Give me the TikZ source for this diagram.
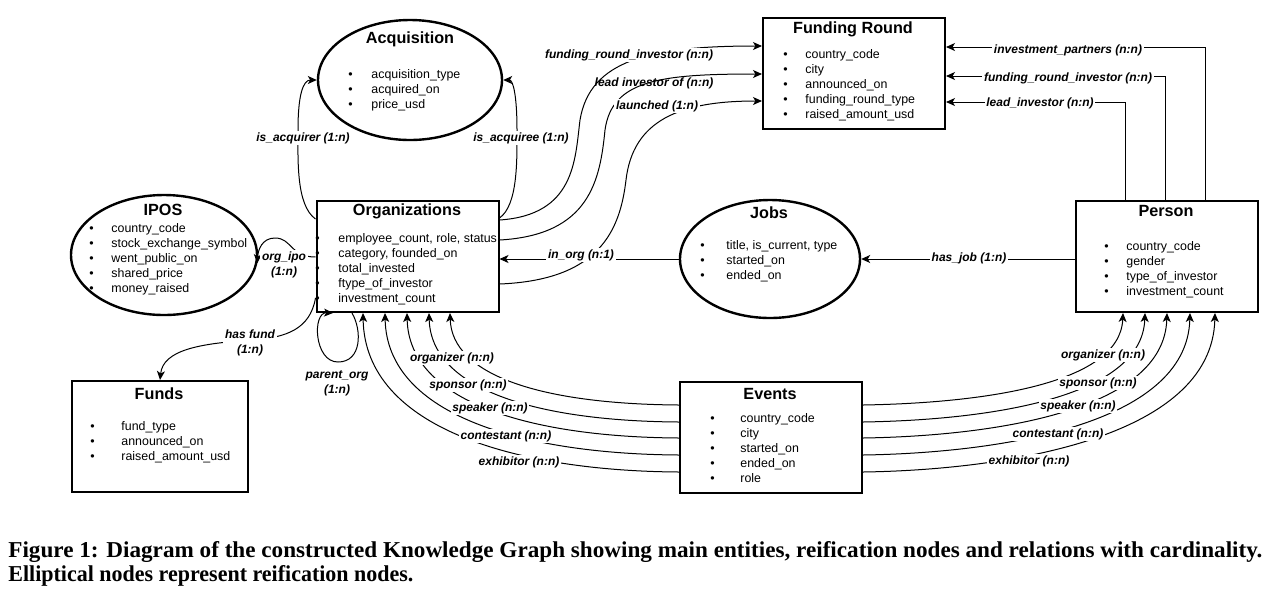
\documentclass[tikz,border=0pt]{standalone}
\usepackage{fontspec}
\setmainfont{Liberation Sans}
\newfontfamily\capfont{Liberation Serif}
\usetikzlibrary{shapes.geometric,arrows.meta}

\newcommand{\attrlist}[2]{\begin{tabular}[t]{@{}l@{\hspace{#1}}l@{}}#2\end{tabular}}
\newcommand{\attr}[1]{\textbullet & #1\\}

\tikzset{
  entity/.style={draw, line width=1pt, minimum width=91pt, minimum height=55.5pt, inner sep=0pt},
  reif/.style={ellipse, draw, line width=1.2pt, inner sep=0pt},
  etitle/.style={font=\fontsize{8.1}{9}\selectfont\bfseries, inner sep=0pt},
  items/.style={font=\fontsize{6.2}{7.5}\selectfont, inner sep=0pt, anchor=base west},
  lbl/.style={font=\fontsize{6}{7.5}\selectfont\bfseries\itshape, fill=white, inner sep=0.8pt, align=center},
  rel/.style={line width=0.5pt, -{Stealth[length=4.5pt,width=4pt,inset=1.2pt]}},
  capline/.style={anchor=base west, inner sep=0pt, font=\capfont\bfseries\fontsize{12}{13.5}\selectfont}
}

\begin{document}
\begin{tikzpicture}[x=0.5pt,y=-0.5pt]
\useasboundingbox (0,0) rectangle (1270,607);

% entities
\node[reif, minimum width=92pt, minimum height=60pt] (acq) at (410,80) {};
\node[etitle] (acqT) at (410,39) {Acquisition};
\node[items] (acqA) at (348,78) {\attrlist{9.35pt}{\attr{acquisition\_type}\attr{acquired\_on}\attr{price\_usd}}};

\node[entity] (fr) at (854,73.5) {};
\node[etitle] (frT) at (853,29) {Funding Round};
\node[items] (frA) at (783,58) {\attrlist{8.85pt}{\attr{country\_code}\attr{city}\attr{announced\_on}\attr{funding\_round\_type}\attr{raised\_amount\_usd}}};

\node[entity] (org) at (407.5,256.5) {};
\node[etitle] (orgT) at (407,211) {Organizations};
\node[items] (orgA) at (315,242) {\attrlist{9.35pt}{\attr{employee\_count, role, status}\attr{category, founded\_on}\attr{total\_invested}\attr{ftype\_of\_investor}\attr{investment\_count}}};

\node[reif, minimum width=93pt, minimum height=60pt] (ipos) at (164,255) {};
\node[etitle] (iposT) at (163,210) {IPOS};
\node[items] (iposA) at (89,232) {\attrlist{8.85pt}{\attr{country\_code}\attr{stock\_exchange\_symbol}\attr{went\_public\_on}\attr{shared\_price}\attr{money\_raised}}};

\node[reif, minimum width=90pt, minimum height=59pt] (jobs) at (770,259) {};
\node[etitle] (jobsT) at (769,213) {Jobs};
\node[items] (jobsA) at (700,249) {\attrlist{10.85pt}{\attr{title, is\_current, type}\attr{started\_on}\attr{ended\_on}}};

\node[entity] (person) at (1166.5,256.5) {};
\node[etitle] (personT) at (1166,211) {Person};
\node[items] (personA) at (1104,250) {\attrlist{8.85pt}{\attr{country\_code}\attr{gender}\attr{type\_of\_investor}\attr{investment\_count}}};

\node[entity, minimum width=88pt] (funds) at (160,436.5) {};
\node[etitle] (fundsT) at (159,394) {Funds};
\node[items] (fundsA) at (90,430) {\attrlist{13.35pt}{\attr{fund\_type}\attr{announced\_on}\attr{raised\_amount\_usd}}};

\node[entity] (events) at (771,437.5) {};
\node[etitle] (eventsT) at (770,394) {Events};
\node[items] (eventsA) at (710,422) {\attrlist{12.85pt}{\attr{country\_code}\attr{city}\attr{started\_on}\attr{ended\_on}\attr{role}}};

% organization relations
\draw[rel] (org.west |- 0,219) .. controls (296,205) and (298,160) .. (298,130) .. controls (298,95) and (303,80) .. (acq.180);
\draw[rel] (org.east |- 0,218) .. controls (518,205) and (517,160) .. (517,130) .. controls (517,95) and (513,80) .. (acq.0);
\draw[rel] (org.east |- 0,220) .. controls (575,215) and (575,160) .. (580,120) .. controls (590,60) and (650,46) .. (fr.west |- 0,46);
\draw[rel] (org.east |- 0,240) .. controls (590,235) and (600,180) .. (605,130) .. controls (612,80) and (660,74) .. (fr.west |- 0,74);
\draw[rel] (org.east |- 0,284) .. controls (600,280) and (620,230) .. (626,180) .. controls (633,120) and (680,101) .. (fr.west |- 0,101);
\draw[rel] (jobs.west) -- (jobs.west -| org.east);
\draw[rel] (person.west |- jobs.east) -- (jobs.east);
\draw[rel] (org.west |- 0,257) .. controls (290,257) and (292,238) .. (275,238) .. controls (262,238) and (258,250) .. (ipos.-5);
\draw[rel] (org.west |- 0,298) .. controls (310,330) and (285,337) .. (255,340) .. controls (200,343) and (163,350) .. (funds.north);
\draw[rel] (org.south -| 352,0) .. controls (362,330) and (362,362) .. (338,362) .. controls (314,362) and (312,312) .. (org.south -| 333,0);

% person to funding round
\draw[rel] (person.north -| 1205,0) |- (fr.east |- 0,47);
\draw[rel] (person.north -| 1165,0) |- (fr.east |- 0,76);
\draw[rel] (person.north -| 1125,0) |- (fr.east |- 0,102);

% events
\draw[rel] (events.west |- 0,405) .. controls (540,404) and (452,375) .. (org.south -| 450,0);
\draw[rel] (events.west |- 0,422) .. controls (535,421) and (431,389) .. (org.south -| 429,0);
\draw[rel] (events.west |- 0,438) .. controls (530,437) and (409,402) .. (org.south -| 407,0);
\draw[rel] (events.west |- 0,455) .. controls (525,454) and (387,416) .. (org.south -| 385,0);
\draw[rel] (events.west |- 0,472) .. controls (520,471) and (365,430) .. (org.south -| 363,0);
\draw[rel] (events.east |- 0,405) .. controls (980,403) and (1120,385) .. (person.south -| 1123,0);
\draw[rel] (events.east |- 0,422) .. controls (985,420) and (1142,399) .. (person.south -| 1145,0);
\draw[rel] (events.east |- 0,438) .. controls (990,436) and (1164,412) .. (person.south -| 1167,0);
\draw[rel] (events.east |- 0,455) .. controls (995,453) and (1187,426) .. (person.south -| 1190,0);
\draw[rel] (events.east |- 0,472) .. controls (1000,470) and (1212,440) .. (person.south -| 1215,0);

% labels
\node[lbl] (lAcqr) at (303,138) {is\_acquirer (1:n)};
\node[lbl] (lAcqe) at (521,138) {is\_acquiree (1:n)};
\node[lbl] (lFri) at (629,55) {funding\_round\_investor (n:n)};
\node[lbl, fill=none] (lLio) at (654,83) {lead investor of (n:n)};
\node[lbl] (lLaunch) at (657,106) {launched (1:n)};
\node[lbl] (lInOrg) at (581,255) {in\_org (n:1)};
\node[lbl] (lHasJob) at (969,258) {has\_job (1:n)};
\node[lbl] (lPartner) at (1068,50) {investment\_partners (n:n)};
\node[lbl] (lFri2) at (1068,78) {funding\_round\_investor (n:n)};
\node[lbl] (lLead) at (1040,103) {lead\_investor (n:n)};
\node[lbl] (lOrgIpo) at (284,265) {org\_ipo\\(1:n)};
\node[lbl] (lFund) at (250,343) {has fund\\(1:n)};
\node[lbl] (lParent) at (337,383) {parent\_org\\(1:n)};
\node[lbl] (lOrgz) at (452,358) {organizer (n:n)};
\node[lbl] (lSpon) at (468,385) {sponsor (n:n)};
\node[lbl] (lSpeak) at (490,408) {speaker (n:n)};
\node[lbl] (lCont) at (506,436) {contestant (n:n)};
\node[lbl] (lExhib) at (519,462) {exhibitor (n:n)};
\node[lbl] (rOrgz) at (1103,355) {organizer (n:n)};
\node[lbl] (rSpon) at (1098,383) {sponsor (n:n)};
\node[lbl] (rSpeak) at (1078,406) {speaker (n:n)};
\node[lbl] (rCont) at (1058,434) {contestant (n:n)};
\node[lbl] (rExhib) at (1029,461) {exhibitor (n:n)};

% caption
\node[capline] (cap1) at (8,557) {\resizebox{627pt}{8pt}{Figure 1: Diagram of the constructed Knowledge Graph showing main entities, reification nodes and relations with cardinality.}};
\node[capline] (cap2) at (8,581) {\resizebox{202.5pt}{8pt}{Elliptical nodes represent reification nodes.}};

\end{tikzpicture}
\end{document}
